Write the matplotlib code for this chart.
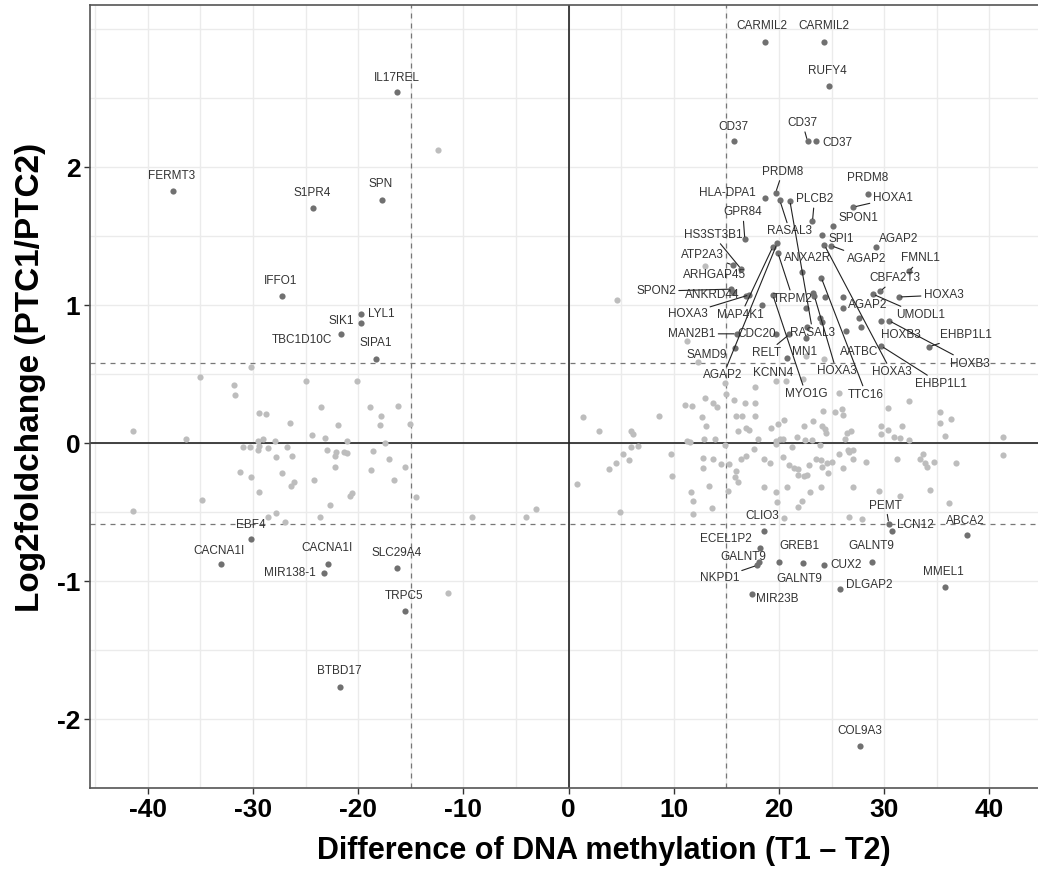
import numpy as np
import matplotlib.pyplot as plt

plt.rcParams['font.family'] = ['Liberation Sans', 'DejaVu Sans']
plt.rcParams['axes.unicode_minus'] = False

# labelled genes (significant in both methylation and expression)
lab_gene = ['IL17REL', 'FERMT3', 'S1PR4', 'SPN', 'IFFO1', 'LYL1', 'SIK1', 'TBC1D10C',
            'SIPA1', 'EBF4', 'CACNA1I', 'CACNA1I', 'MIR138-1', 'SLC29A4', 'TRPC5', 'BTBD17',
            'CARMIL2', 'CARMIL2', 'RUFY4', 'CD37', 'CD37', 'CD37', 'PRDM8', 'PRDM8',
            'HLA-DPA1', 'RASAL3', 'RASAL3', 'PLCB2', 'HOXA1', 'SPON1', 'GPR84', 'SPI1',
            'AGAP2', 'HOXA3', 'AGAP2', 'FMNL1', 'CBFA2T3', 'HOXA3', 'UMODL1', 'AGAP2',
            'HOXB3', 'HOXB3', 'EHBP1L1', 'EHBP1L1', 'TTC16', 'ANXA2R', 'TRPM2', 'HOXA3',
            'MN1', 'AATBC', 'RELT', 'KCNN4', 'MYO1G', 'MAN2B1', 'CDC20', 'SAMD9',
            'AGAP2', 'HOXA3', 'MAP4K1', 'HS3ST3B1', 'ATP2A3', 'ARHGAP45', 'SPON2', 'ANKRD44',
            'CLIO3', 'ECEL1P2', 'GALNT9', 'NKPD1', 'GREB1', 'GALNT9', 'CUX2', 'DLGAP2',
            'GALNT9', 'PEMT', 'LCN12', 'ABCA2', 'MMEL1', 'MIR23B', 'COL9A3']
lab_x = [-16.28, -37.61, -24.31, -17.75, -27.25, -19.71, -19.71, -21.6,
         -18.28, -30.16, -33.05, -22.88, -23.26, -16.28, -15.52, -21.7,
         18.66, 24.27, 24.74, 15.71, 22.72, 23.48, 19.68, 28.45,
         18.66, 20.09, 21.04, 23.19, 27.09, 25.13, 16.76, 24.09,
         24.97, 24.33, 29.25, 32.35, 29.63, 31.37, 28.93, 26.08,
         29.72, 30.45, 34.3, 29.72, 24.02, 22.2, 19.9, 23.38,
         22.6, 26.4, 21.0, 20.8, 19.42, 16.0, 19.7, 15.78,
         19.83, 17.2, 19.42, 16.41, 15.62, 15.6, 15.46, 16.83,
         18.54, 18.16, 18.06, 17.94, 22.27, 19.99, 24.24, 25.76,
         28.83, 30.45, 30.73, 37.86, 35.77, 17.4, 27.69]
lab_y = [2.544, 1.829, 1.705, 1.765, 1.065, 0.937, 0.873, 0.789,
         0.611, -0.698, -0.878, -0.878, -0.942, -0.902, -1.219, -1.766,
         2.91, 2.91, 2.587, 2.19, 2.19, 2.19, 1.815, 1.808,
         1.779, 1.760, 1.758, 1.609, 1.712, 1.578, 1.477, 1.509,
         1.432, 1.436, 1.424, 1.245, 1.101, 1.060, 1.081, 0.982,
         0.889, 0.889, 0.70, 0.705, 1.201, 1.24, 1.381, 1.065,
         0.765, 0.813, 0.79, 0.62, 1.075, 0.793, 0.794, 0.693,
         1.448, 1.076, 1.424, 1.263, 1.292, 1.096, 1.117, 1.065,
         -0.636, -0.758, -0.86, -0.885, -0.866, -0.859, -0.885, -1.058,
         -0.859, -0.583, -0.638, -0.662, -1.046, -1.096, -2.199]

# significant points whose labels were dropped
sig_x = [22.6, 22.7, 24.34, 23.86, 24.08, 26.08, 27.66, 27.82, 18.38, 23.23]
sig_y = [0.98, 0.84, 1.06, 0.91, 0.88, 1.06, 0.91, 0.84, 1.0, 1.089]

# remaining (non significant) genes
bg_x = [-30.16, -35.01, -31.84, -31.75, -24.94, -20.12, -23.51, -18.88, -16.19, -17.81,
        -17.90, -15.05, -29.44, -28.74, -26.46, -21.93, -41.41, -36.37, -24.37, -23.13,
        -29.06, -29.53, -27.88, -21.07, -17.43, -30.96, -30.26, -29.44, -29.53, -28.55,
        -26.77, -22.97, -22.12, -22.18, -21.36, -21.07, -18.57, -27.79, -26.30, -17.05,
        -31.21, -30.20, -27.25, -22.18, -18.76, -15.53, -24.18, -16.60, -26.11, -26.39,
        -29.44, -20.75, -20.56, -14.48, -34.85, -22.66, -41.41, -28.55, -27.79, -26.96,
        -23.61, -9.16, -4.09, -3.07, -11.50, -12.42,
        1.39, 2.92, 5.89, 6.12, 5.96, 6.56, 5.20, 4.47, 3.87, 5.70,
        0.82, 4.91, 8.62, 9.70, 9.79, 11.03, 11.69, 11.22, 11.5, 11.6,
        11.79, 11.79,
        13.72, 14.13, 15.72, 16.76, 17.77, 12.71, 13.02, 12.83, 13.88, 15.94,
        16.51, 17.68, 16.10, 16.83, 17.14, 18.0, 19.2, 19.9, 20.53, 19.74,
        20.06, 20.37, 21.7, 22.47, 22.43, 23.23, 24.15, 24.12, 24.34, 24.52,
        23.1, 25.35, 26.02, 26.14, 26.46, 26.88, 26.27, 29.69, 30.35, 29.69,
        30.35, 31.69, 30.93, 31.5, 32.35, 32.35, 35.33, 35.33, 36.34, 35.77,
        41.29, 14.83, 19.71, 23.86,
        12.77, 12.77, 13.72, 14.45, 15.24, 13.31, 13.59, 15.15, 15.94, 15.87,
        16.1, 16.35, 16.83, 17.62, 18.57, 19.11, 18.54, 19.74, 19.80, 20.37,
        20.78, 20.94, 21.26, 21.39, 21.8, 21.86, 22.34, 22.69, 22.84, 21.77,
        22.18, 22.97, 23.48, 24.02, 24.08, 24.02, 24.55, 24.65, 25.07, 25.7,
        26.08, 26.55, 26.65, 27.03, 27.03, 27.0, 26.65, 27.89, 28.3, 29.56,
        31.21, 31.53, 33.37, 33.68, 33.91, 34.06, 34.73, 34.32, 36.15, 36.82,
        41.29, 20.47,
        13.0, 14.93, 14.9, 17.68, 19.74, 20.7, 22.28, 22.59, 25.7, 24.24,
        11.3, 12.3, 12.93, 4.56]
bg_y = [0.549, 0.477, 0.424, 0.353, 0.448, 0.453, 0.259, 0.259, 0.273, 0.194,
        0.129, 0.137, 0.216, 0.209, 0.144, 0.129, 0.086, 0.029, 0.058, 0.036,
        0.029, 0.014, 0.019, 0.014, 0.0, -0.029, -0.029, -0.022, -0.050, -0.036,
        -0.029, -0.050, -0.065, -0.094, -0.065, -0.072, -0.058, -0.101, -0.094, -0.115,
        -0.209, -0.245, -0.216, -0.173, -0.194, -0.173, -0.266, -0.266, -0.281, -0.31,
        -0.353, -0.381, -0.360, -0.388, -0.410, -0.446, -0.489, -0.532, -0.504, -0.568,
        -0.532, -0.532, -0.532, -0.475, -1.086, 2.124,
        0.187, 0.086, 0.088, 0.064, -0.029, -0.022, -0.075, -0.144, -0.187, -0.125,
        -0.295, -0.496, 0.194, -0.080, -0.237, 0.280, 0.273, 0.014, 0.007, -0.353,
        -0.418, -0.511,
        0.290, 0.266, 0.313, 0.295, 0.295, 0.189, 0.122, 0.029, 0.029, 0.199,
        0.199, 0.199, 0.086, 0.110, 0.093, 0.029, 0.112, 0.141, 0.170, 0.014,
        0.029, 0.029, 0.043, 0.021, 0.127, 0.158, 0.237, 0.127, 0.105, 0.074,
        0.021, 0.223, 0.247, 0.201, 0.074, 0.086, 0.029, 0.122, 0.093, 0.064,
        0.256, 0.122, 0.043, 0.036, 0.021, 0.309, 0.223, 0.146, 0.179, 0.050,
        0.043, -0.015, -0.003, -0.010,
        -0.108, -0.183, -0.118, -0.151, -0.151, -0.310, -0.468, -0.346, -0.2, -0.243,
        -0.281, -0.113, -0.092, -0.044, -0.116, -0.142, -0.314, -0.351, -0.425, -0.099,
        -0.314, -0.161, -0.031, -0.183, -0.190, -0.228, -0.235, -0.233, -0.159, -0.466,
        -0.418, -0.355, -0.111, -0.123, -0.176, -0.314, -0.142, -0.214, -0.137, -0.080,
        -0.178, -0.046, -0.067, -0.051, -0.111, -0.317, -0.535, -0.550, -0.137, -0.346,
        -0.116, -0.382, -0.116, -0.075, -0.147, -0.176, -0.137, -0.341, -0.435, -0.147,
        -0.086, -0.542,
        0.328, 0.360, 0.44, 0.409, 0.448, 0.448, 0.465, 0.632, 0.361, 0.609,
        0.738, 0.59, 1.287, 1.038]

# label placement (pixel offset from point, +dy = downwards) and leader line flag
lab_off = [(-1, -14), (-1, -15), (-1, -15), (-1, -16), (-1, -15), (20, 0), (-20, -2), (-39, 6),
           (-1, -16), (-1, -14), (-2, -13), (-1, -16), (-34, 0), (-1, -15), (-1, -15), (-1, -16),
           (-3, -16), (0, -16), (-1, -15), (0, -14), (-5, -18), (22, 2), (7, -21), (0, -16),
           (-37, -5), (10, 31), (23, 132), (2, -22), (39, -9), (26, -8), (-2, -27), (19, 4),
           (35, 13), (67, 127), (22, -8), (12, -13), (15, -13), (45, -2), (48, 21), (25, -3),
           (20, 14), (81, 43), (37, -12), (60, 38), (45, 117), (6, -14), (15, 46), (22, 75),
           (-2, 14), (13, 21), (-23, 19), (-14, 15), (33, 99), (-45, 0), (-19, 0), (-28, 7),
           (-54, 132), (-62, 19), (-32, 68), (-28, -34), (-30, -10), (-18, -17), (-75, 2), (-33, -1),
           (-1, -15), (-34, -9), (-15, -5), (-38, 13), (-3, -17), (20, 17), (23, 0), (30, -4),
           (0, -16), (-3, -18), (24, -6), (-1, -14), (-1, -15), (26, 5), (0, -15)]
lab_seg = [0, 0, 0, 0, 0, 0, 0, 0,
           0, 0, 0, 0, 0, 0, 0, 0,
           0, 0, 0, 0, 1, 0, 1, 0,
           0, 1, 1, 1, 1, 0, 1, 0,
           1, 1, 0, 1, 1, 1, 1, 0,
           0, 1, 1, 1, 1, 0, 1, 1,
           0, 0, 1, 0, 1, 1, 0, 0,
           1, 1, 1, 1, 1, 0, 1, 0,
           0, 0, 0, 1, 0, 0, 0, 0,
           0, 1, 0, 0, 0, 0, 0]

fig = plt.figure(figsize=(10.38, 8.72), dpi=100)
ax = fig.add_axes([90 / 1038, 1 - 788 / 872, 956.6 / 1038, 782.7 / 872])

ax.set_xlim(-45.5, 45.45)
ax.set_ylim(-2.456, 3.175)

ax.set_xticks(range(-40, 41, 10))
ax.set_xticks(np.arange(-45, 46, 5), minor=True)
ax.set_yticks([-2, -1, 0, 1, 2])
ax.set_yticks(np.arange(-2.5, 3.01, 0.5), minor=True)
ax.grid(True, which='both', color='#ebebeb', lw=1.0, zorder=0)
ax.set_axisbelow(True)
ax.tick_params(which='minor', length=0)
ax.tick_params(which='major', length=4, width=1, color='#333333', labelsize=19, pad=3)
for t in ax.get_xticklabels() + ax.get_yticklabels():
    t.set_fontweight('bold')
for s in ax.spines.values():
    s.set_color('#555555')
    s.set_linewidth(1.2)

# thresholds
ax.axhline(0, color='#222222', lw=1.2, zorder=1)
ax.axvline(0, color='#222222', lw=1.2, zorder=1)
for v in (-15, 15):
    ax.axvline(v, color='#777777', lw=0.9, ls=(0, (4, 4)), zorder=1)
for v in (-np.log2(1.5), np.log2(1.5)):
    ax.axhline(v, color='#777777', lw=0.9, ls=(0, (4, 4)), zorder=1)

ax.scatter(bg_x, bg_y, s=20, color='#bdbdbd', linewidths=0, zorder=2)
ax.scatter(sig_x, sig_y, s=20, color='#707070', linewidths=0, zorder=3)
ax.scatter(lab_x, lab_y, s=20, color='#707070', linewidths=0, zorder=3)

for g, x, y, (dx, dy), sg in zip(lab_gene, lab_x, lab_y, lab_off, lab_seg):
    kw = {}
    if sg:
        kw['arrowprops'] = dict(arrowstyle='-', color='#222222', lw=0.8,
                                shrinkA=0, shrinkB=2)
    ax.annotate(g, (x, y), xytext=(dx, -dy), textcoords='offset pixels',
                ha='center', va='center', fontsize=8.5, color='#333333',
                zorder=4, **kw)

ax.set_xlabel('Difference of DNA methylation (T1 \u2013 T2)', fontsize=22,
              fontweight='bold')
ax.set_ylabel('Log2foldchange (PTC1/PTC2)', fontsize=24, fontweight='bold')
ax.xaxis.set_label_coords(0.537, -0.061)
ax.yaxis.set_label_coords(-0.046, 0.525)

fig.savefig('out.png', dpi=100)
